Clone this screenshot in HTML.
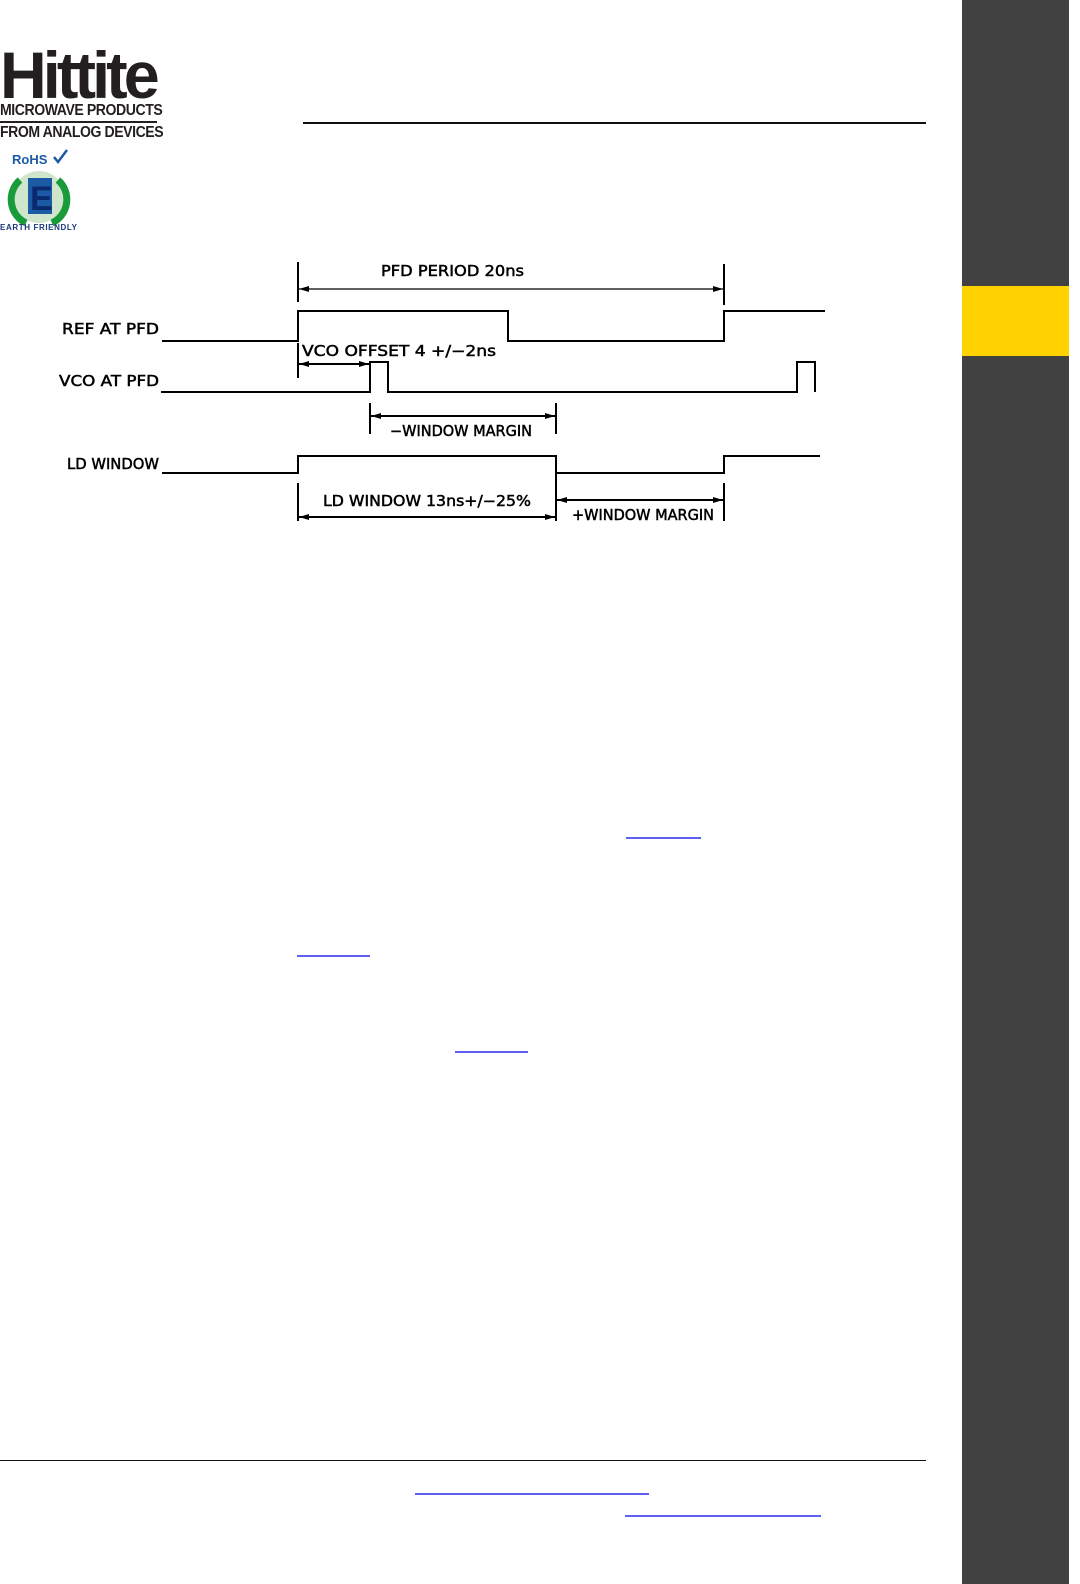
<!DOCTYPE html>
<html><head><meta charset="utf-8"><style>
body{margin:0;width:1080px;height:1584px;background:#fff;position:relative;overflow:hidden;font-family:"Liberation Sans",sans-serif}
.a{position:absolute}
</style></head><body>
<div class="a" style="left:962px;top:0;width:107px;height:1584px;background:#414141"></div>
<div class="a" style="left:962px;top:286px;width:107px;height:70px;background:#ffd200"></div>
<div class="a" style="left:303px;top:122px;width:623px;height:2px;background:#111"></div>
<div class="a" style="left:0;top:1460px;width:926px;height:1px;background:#111"></div>
<div class="a" style="left:0;top:44px;font:bold 66px/62px 'Liberation Sans',sans-serif;color:#231f20;letter-spacing:-4px;transform:scaleX(0.98);transform-origin:left">Hittite</div>
<div class="a" style="left:0;top:102px;font:bold 16px/17px 'Liberation Sans',sans-serif;color:#231f20;letter-spacing:-0.5px;white-space:nowrap;transform:scaleX(0.88);transform-origin:left">MICROWAVE PRODUCTS</div>
<div class="a" style="left:0;top:121px;width:157px;height:2px;background:#231f20"></div>
<div class="a" style="left:0;top:124px;font:bold 16px/17px 'Liberation Sans',sans-serif;color:#231f20;letter-spacing:-0.5px;white-space:nowrap;transform:scaleX(0.88);transform-origin:left">FROM ANALOG DEVICES</div>
<svg class="a" style="left:0;top:145px" width="90" height="90">
<text x="12" y="19" font-family="Liberation Sans" font-weight="bold" font-size="13" fill="#1c5aa6">RoHS</text>
<path d="M54 12 l4 5 l9 -12" stroke="#1c5aa6" stroke-width="2.5" fill="none"/>
<circle cx="39" cy="52" r="26" fill="#cfe6cc"/>
<path d="M20 35 A26 26 0 0 0 26 78" stroke="#1a9b3a" stroke-width="7" fill="none"/>
<path d="M58 35 A26 26 0 0 1 52 78" stroke="#1a9b3a" stroke-width="7" fill="none"/>
<rect x="28" y="33" width="24" height="36" fill="#1c5aa6"/>
<text x="30" y="65" font-family="Liberation Sans" font-weight="bold" font-size="34" fill="#0a2a70">E</text>
<text x="0" y="85" font-family="Liberation Sans" font-weight="bold" font-size="8" fill="#1c3a7a" textLength="77">EARTH FRIENDLY</text>
</svg>
<svg class="a" style="left:0;top:0" width="960" height="1584">
<defs><marker id="ar" viewBox="0 0 10 6" refX="10" refY="3" markerWidth="14" markerHeight="6" markerUnits="userSpaceOnUse" orient="auto-start-reverse"><path d="M0 0L10 3L0 6z" fill="#000"/></marker></defs>
<g stroke="#000" stroke-width="2" fill="none">
<polyline points="162,341 298,341 298,311 508,311 508,341 724,341 724,311 825,311"/>
<polyline points="161,392 370,392 370,362 388,362 388,392 797,392 797,362 815,362 815,392"/>
<polyline points="162,473 298,473 298,456 556,456 556,473 724,473 724,456 820,456"/>
<line x1="298" y1="262" x2="298" y2="302"/><line x1="724" y1="264" x2="724" y2="305"/>
<line x1="299" y1="289" x2="723" y2="289" stroke-width="1.3" marker-start="url(#ar)" marker-end="url(#ar)"/>
<line x1="298" y1="343" x2="298" y2="378"/>
<line x1="299" y1="364" x2="369" y2="364" marker-start="url(#ar)" marker-end="url(#ar)"/>
<line x1="370" y1="403" x2="370" y2="434"/><line x1="556" y1="403" x2="556" y2="434"/>
<line x1="371" y1="416" x2="555" y2="416" marker-start="url(#ar)" marker-end="url(#ar)"/>
<line x1="298" y1="483" x2="298" y2="521"/><line x1="556" y1="460" x2="556" y2="521"/><line x1="724" y1="483" x2="724" y2="521"/>
<line x1="299" y1="517" x2="555" y2="517" marker-start="url(#ar)" marker-end="url(#ar)"/>
<line x1="557" y1="500" x2="723" y2="500" marker-start="url(#ar)" marker-end="url(#ar)"/>
</g>
<g font-family="DejaVu Sans, Liberation Sans, sans-serif" font-size="15" fill="#000" stroke="#000" stroke-width="0.5" lengthAdjust="spacingAndGlyphs">
<text x="381" y="276" textLength="143" lengthAdjust="spacingAndGlyphs">PFD  PERIOD  20ns</text>
<text x="62" y="334" textLength="97" lengthAdjust="spacingAndGlyphs">REF  AT  PFD</text>
<text x="59" y="386" textLength="100" lengthAdjust="spacingAndGlyphs">VCO  AT  PFD</text>
<text x="67" y="469" textLength="92" lengthAdjust="spacingAndGlyphs">LD  WINDOW</text>
<text x="302" y="356" textLength="194" lengthAdjust="spacingAndGlyphs">VCO  OFFSET  4  +/−2ns</text>
<text x="390" y="436" textLength="142" lengthAdjust="spacingAndGlyphs">−WINDOW  MARGIN</text>
<text x="323" y="506" textLength="208" lengthAdjust="spacingAndGlyphs">LD  WINDOW  13ns+/−25%</text>
<text x="572" y="520" textLength="142" lengthAdjust="spacingAndGlyphs">+WINDOW  MARGIN</text>
</g>
<g stroke="#0000ee" stroke-width="1.2">
<line x1="626" y1="838" x2="701" y2="838"/><line x1="297" y1="956" x2="370" y2="956"/>
<line x1="455" y1="1052" x2="528" y2="1052"/><line x1="415" y1="1494" x2="649" y2="1494"/>
<line x1="625" y1="1516" x2="821" y2="1516"/>
</g>
</svg>
</body></html>
